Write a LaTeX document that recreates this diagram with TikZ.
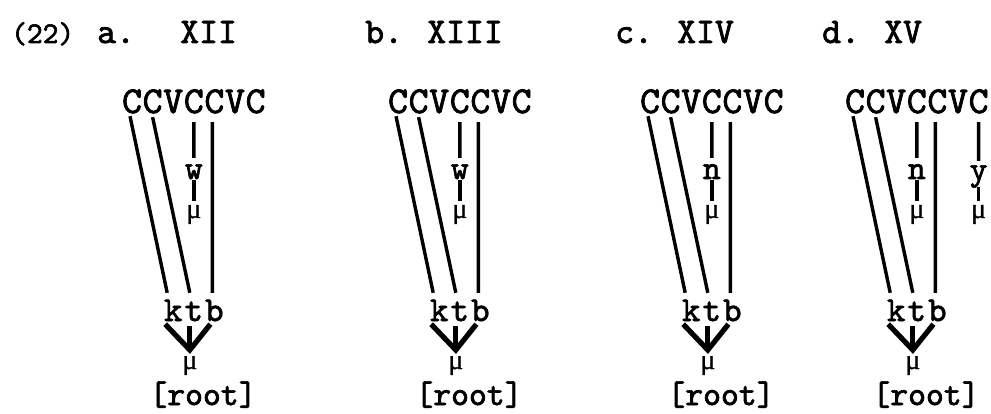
\documentclass[tikz,border=0pt]{standalone}
\usepackage{fontspec}
\newfontfamily\tyw{lmmono10-regular.otf}[FakeBold=2]
\newfontfamily\muf{Liberation Serif}[FakeBold=1]
\tikzset{
  hd/.style={font=\tyw\fontsize{36}{40}\selectfont, inner sep=0pt, anchor=base west},
  num/.style={font=\tyw\fontsize{30}{34}\selectfont, inner sep=0pt, anchor=base west},
  cvl/.style={font=\tyw\fontsize{38}{44}\selectfont, inner sep=0pt, anchor=base, text height=23pt, text depth=0pt},
  ltr/.style={font=\tyw\fontsize{35}{40}\selectfont, inner sep=0pt, anchor=base, text height=23pt, text depth=0pt},
  midl/.style={font=\tyw\fontsize{34}{38}\selectfont, inner sep=0pt, anchor=base, text height=15pt, text depth=0pt},
  mu/.style={font=\muf\fontsize{28}{30}\selectfont, inner sep=0pt, anchor=base, text height=12pt, text depth=0pt},
  rt/.style={font=\tyw\fontsize{34}{38}\selectfont, inner sep=0pt, anchor=base},
  ln/.style={line width=3.4pt},
  arm/.style={line width=5.2pt, line join=miter},
}
\newcommand\drawpanel[3]{%
  \foreach \i/\l in {0/C,1/C,2/V,3/C,4/C,5/V,6/C}{
    \node[cvl] (#1c\i) at ({#2+20.6*\i},113) {\l};
  }
  \node[ltr] (#1k) at ({#2+41.2},321) {k};
  \node[ltr] (#1t) at ({#2+61.8},321) {t};
  \node[ltr] (#1b) at ({#2+82.4},321) {b};
  \node[midl] (#1m) at ({#2+61.8},179) {#3};
  \node[mu] (#1mu) at ({#2+61.8},218) {μ};
  \coordinate (#1v) at ({#2+57.8},350);
  \node[mu] (#1mub) at ({#2+57.8},369) {μ};
  \node[rt] (#1r) at ({#2+71},405) {[root]};
  \draw[ln] ([xshift=-2pt,yshift=-3pt]#1c0.south) -- ([xshift=-6pt,yshift=5pt]#1k.north);
  \draw[ln] ([yshift=-4pt]#1c1.south) -- ([xshift=-4pt,yshift=5pt]#1t.north);
  \draw[ln] ([xshift=-2pt,yshift=-9pt]#1c4.south) -- ([xshift=-2pt,yshift=5pt]#1b.north);
  \draw[ln] ([yshift=-9pt]#1c3.south) -- ([yshift=6pt]#1m.north);
  \draw[ln] ([yshift=-1pt]#1m.south) -- ([yshift=5pt]#1mu.north);
  \draw[arm] ([xshift=-8pt,yshift=-3pt]#1k.south) -- (#1v) -- ([xshift=-4pt,yshift=-3pt]#1b.south);
  \draw[arm] ([xshift=-4pt,yshift=-5pt]#1t.south) -- (#1v);
}
\begin{document}
\begin{tikzpicture}[x=1pt,y=-1pt]
  \useasboundingbox (0,0) rectangle (991,414);
  \node[num] (n22) at (11,43) {(22)};
  \node[hd] (la) at (97,43) {a.};
  \node[hd] (ta) at (180,43) {XII};
  \node[hd] (lb) at (365,43) {b.};
  \node[hd] (tb) at (427,43) {XIII};
  \node[hd] (lc) at (615,43) {c.};
  \node[hd] (tc) at (677,43) {XIV};
  \node[hd] (ld) at (822,43) {d.};
  \node[hd] (td) at (884,43) {XV};
  \drawpanel{a}{132}{w}
  \drawpanel{b}{398}{w}
  \drawpanel{c}{650}{n}
  \drawpanel{d}{855}{n}
  \node[midl] (dy) at (978.6,180) {y};
  \node[mu] (dymu) at (978.6,218) {μ};
  \draw[ln] ([yshift=-9pt]dc6.south) -- ([yshift=4pt]dy.north);
  \draw[ln] ([yshift=-7pt]dy.south) -- ([yshift=5pt]dymu.north);
\end{tikzpicture}
\end{document}
